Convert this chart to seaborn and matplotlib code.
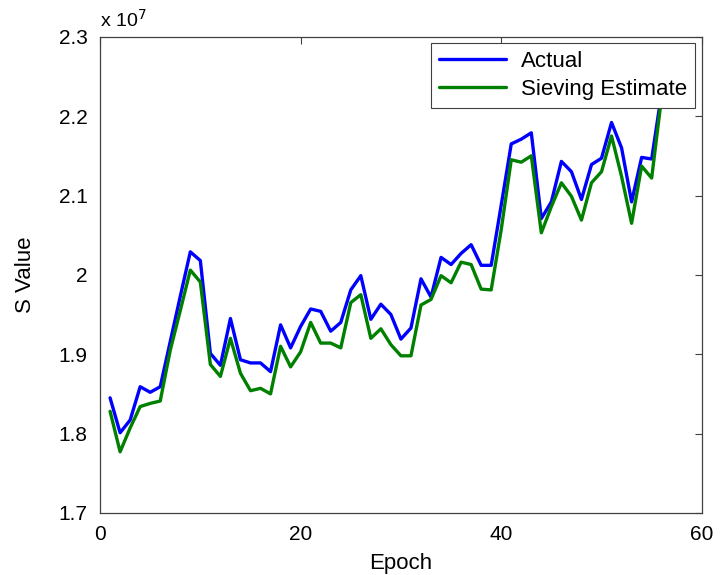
import matplotlib
matplotlib.use("Agg")
import matplotlib.pyplot as plt
import seaborn as sns
import numpy as np
import pandas as pd

## values, in units of 1e7
epochs = list(range(1, 57))
actual = [1.845, 1.801, 1.817, 1.859, 1.852, 1.859, 1.916, 1.973, 2.029, 2.018,
          1.901, 1.886, 1.945, 1.893, 1.889, 1.889, 1.878, 1.937, 1.908, 1.935,
          1.957, 1.954, 1.929, 1.940, 1.981, 1.999, 1.944, 1.963, 1.950, 1.919,
          1.933, 1.995, 1.972, 2.022, 2.013, 2.027, 2.038, 2.012, 2.012, 2.088,
          2.165, 2.171, 2.179, 2.071, 2.092, 2.143, 2.130, 2.095, 2.139, 2.147,
          2.192, 2.160, 2.092, 2.148, 2.146, 2.230]
sieving = [1.828, 1.777, 1.807, 1.834, 1.838, 1.841, 1.905, 1.955, 2.006, 1.991,
           1.887, 1.872, 1.920, 1.876, 1.854, 1.857, 1.850, 1.910, 1.884, 1.903,
           1.940, 1.914, 1.914, 1.908, 1.965, 1.975, 1.920, 1.932, 1.912, 1.898,
           1.898, 1.962, 1.969, 1.999, 1.990, 2.016, 2.013, 1.982, 1.981, 2.057,
           2.145, 2.142, 2.150, 2.053, 2.086, 2.116, 2.099, 2.069, 2.116, 2.130,
           2.175, 2.124, 2.065, 2.137, 2.122, 2.225]
series_names = ["Actual", "Sieving Estimate"]
series_colors = ["#0000ff", "#008000"]
y_ticks = [1.7, 1.8, 1.9, 2.0, 2.1, 2.2, 2.3]
y_tick_labels = ["1.7", "1.8", "1.9", "2", "2.1", "2.2", "2.3"]
x_ticks = [0, 20, 40, 60]

df = pd.DataFrame({
    "Epoch": epochs * 2,
    "S": np.array(actual + sieving) * 1e7,
    "series": [series_names[0]] * len(actual) + [series_names[1]] * len(sieving),
})

sns.set_style("white")
plt.rcParams["font.family"] = ["Liberation Sans", "DejaVu Sans"]
plt.rcParams["text.color"] = "black"
plt.rcParams["axes.labelcolor"] = "black"
plt.rcParams["xtick.color"] = "black"
plt.rcParams["ytick.color"] = "black"

fig = plt.figure(figsize=(7.25, 5.75), dpi=100)
ax = fig.add_axes([0.138, 0.108, 0.830, 0.828])

sns.lineplot(
    data=df,
    x="Epoch",
    y="S",
    hue="series",
    palette=dict(zip(series_names, series_colors)),
    linewidth=2.4,
    ax=ax,
)

ax.set_xlim(0, 60)
ax.set_ylim(1.7e7, 2.3e7)
ax.set_xticks(x_ticks)
ax.set_xticklabels([str(t) for t in x_ticks])
ax.set_yticks([t * 1e7 for t in y_ticks])
ax.set_yticklabels(y_tick_labels)

ax.tick_params(direction="in", length=5, width=0.8, color="#404040",
               labelcolor="black", top=True, right=True, labelsize=15, pad=9)
for s in ax.spines.values():
    s.set_color("#404040")
    s.set_linewidth(0.9)

ax.text(0.0, 1.012, r"x 10$^{7}$", transform=ax.transAxes, fontsize=14,
        ha="left", va="bottom", color="black")

ax.set_xlabel("Epoch", fontsize=16, color="black", labelpad=6)
ax.set_ylabel("S Value", fontsize=16, color="black", labelpad=16)

handles, labels = ax.get_legend_handles_labels()
leg = ax.legend(handles, series_names, loc="upper right", fontsize=16,
                frameon=True, fancybox=False, framealpha=1,
                edgecolor="#404040", borderaxespad=0.3, handlelength=3.0,
                handletextpad=0.7, borderpad=0.35, labelspacing=0.3)
leg.get_frame().set_linewidth(0.8)
for t in leg.get_texts():
    t.set_color("black")

fig.savefig("out.png", dpi=100)
